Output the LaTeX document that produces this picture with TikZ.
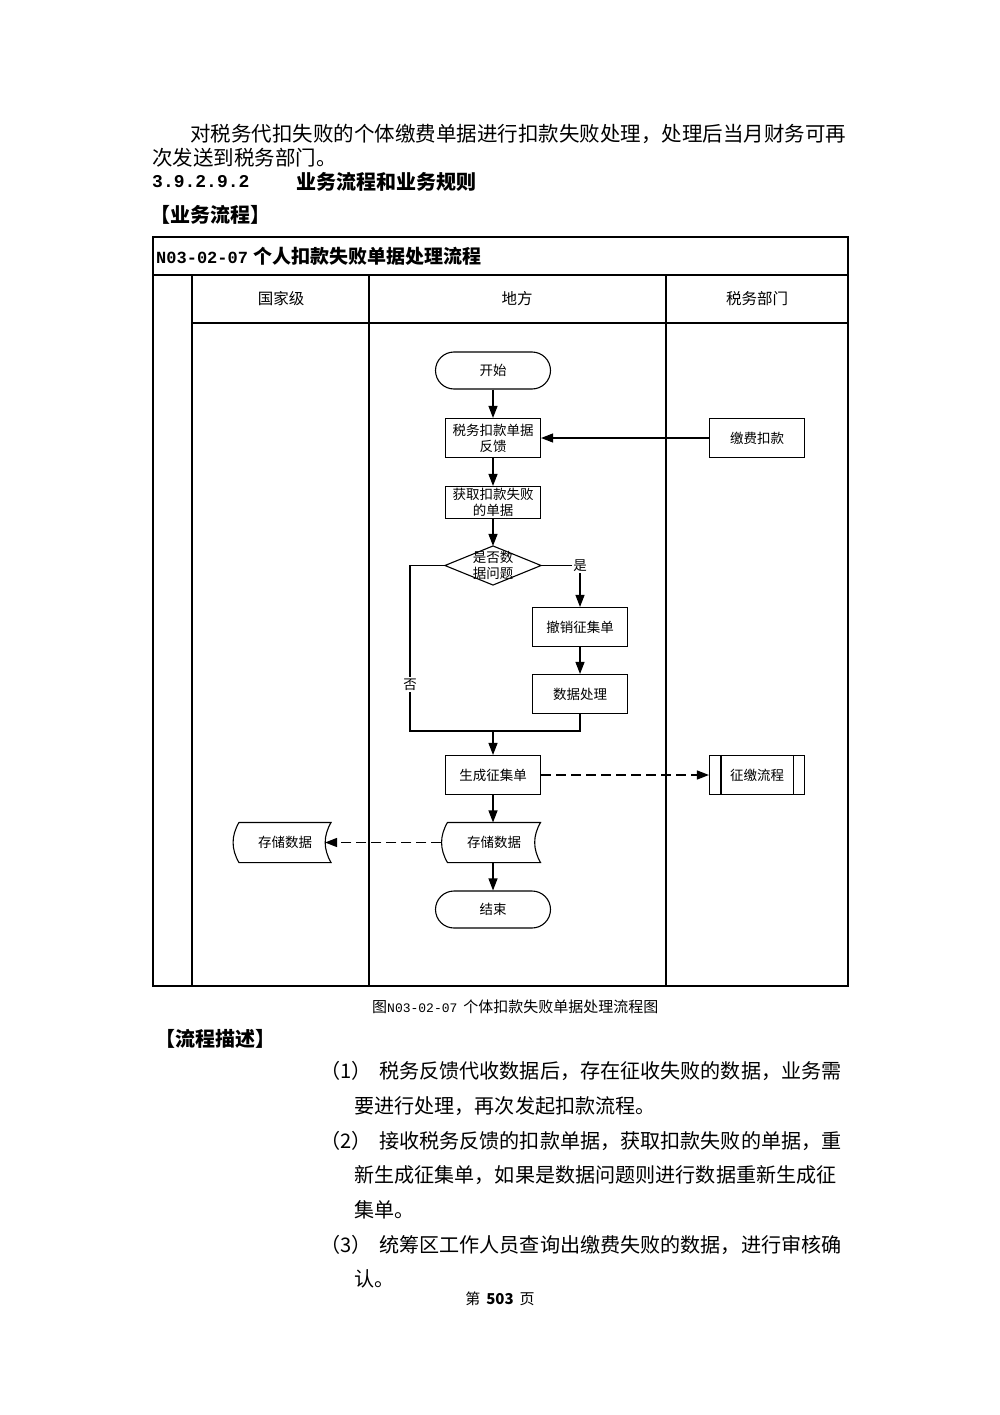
\documentclass[tikz,border=0pt]{standalone}
\usepackage{fontspec}
\setmainfont{Noto Sans CJK SC}
\newfontfamily\mono{Liberation Mono}
\usetikzlibrary{arrows.meta}

\tikzset{
    proc/.style={draw, line width=1.1pt, minimum width=95pt, minimum height=39pt,
        inner sep=0pt, align=center, font=\fontsize{13.5}{16}\selectfont},
    term/.style={proc, minimum width=115pt, minimum height=37pt, rounded corners=18.5pt},
    flow/.style={line width=1.1pt, -{Triangle[length=12pt,width=9pt]}},
    dflow/.style={flow, line width=1.3pt, dash pattern=on 10pt off 5pt},
    body/.style={anchor=west, inner sep=0pt, font=\fontsize{20.5}{24}\selectfont},
    desc/.style={body, font=\fontsize{20.1}{24}\selectfont},
    bhead/.style={anchor=west, inner sep=0pt, font=\bfseries\fontsize{20}{24}\selectfont},
    lane/.style={inner sep=0pt, font=\fontsize{15.5}{18}\selectfont},
    tag/.style={fill=white, inner sep=1.5pt, font=\fontsize{13.5}{16}\selectfont},
}

\begin{document}
\begin{tikzpicture}[x=1pt, y=-1pt]
    \useasboundingbox (0,0) rectangle (1000,1415);

    % text above the chart
    \node[body] (intro1) at (190,134) {对税务代扣失败的个体缴费单据进行扣款失败处理，处理后当月财务可再};
    \node[body] (intro2) at (152,158) {次发送到税务部门。};
    \node[bhead] (secno) at (152,182) {\mono\fontsize{18}{20}\selectfont 3.9.2.9.2};
    \node[bhead] (secname) at (296,182) {业务流程和业务规则};
    \node[bhead] (flowhead) at (150,215) {【业务流程】};

    % lane frame
    \draw[line width=1.3pt] (153,237) rectangle (848,986);
    \draw[line width=1.3pt] (153,275) -- (848,275);
    \draw[line width=1.3pt] (192,323) -- (848,323);
    \draw[line width=1.3pt] (192,275) -- (192,986);
    \draw[line width=1.3pt] (369,275) -- (369,986);
    \draw[line width=1.3pt] (666,275) -- (666,986);
    \node[anchor=west, inner sep=0pt, font=\bfseries\fontsize{19}{22}\selectfont] (title) at (156,256)
        {{\mono\fontsize{17}{20}\selectfont N03-02-07}\hspace{5pt}个人扣款失败单据处理流程};
    \node[lane] (natl) at (281,299) {国家级};
    \node[lane] (local) at (517,299) {地方};
    \node[lane] (tax) at (757,299) {税务部门};

    % nodes
    \node[term] (start) at (493,370.5) {开始};
    \node[proc] (fb) at (493,438) {税务扣款单据\\反馈};
    \node[proc] (pay) at (757,438) {缴费扣款};
    \node[proc, minimum height=32pt] (get) at (493,502.5) {获取扣款失败\\的单据};
    \node[proc, draw=none, minimum height=38pt] (chk) at (493,565.5) {是否数\\据问题};
    \draw[line width=1.1pt] (chk.north) -- (chk.east) -- (chk.south) -- (chk.west) -- cycle;
    \node[proc] (undo) at (580,627) {撤销征集单};
    \node[proc] (fix) at (580,694) {数据处理};
    \coordinate (join) at (493,731);
    \coordinate (nobend) at (410,731);
    \node[proc] (gen) at (493,775) {生成征集单};
    \node[proc] (sub) at (757,775) {征缴流程};
    \draw[line width=1.1pt] ([xshift=12pt]sub.north west) -- ([xshift=12pt]sub.south west);
    \draw[line width=1.1pt] ([xshift=-12pt]sub.north east) -- ([xshift=-12pt]sub.south east);
    \node[proc, draw=none, minimum width=92pt] (store) at (494,842.5) {存储数据};
    \draw[line width=1.1pt] (store.north west) -- (store.north east) to[bend right=30] (store.south east)
        -- (store.south west) to[bend left=30] (store.north west);
    \node[proc, draw=none, minimum width=91pt] (arch) at (285,842.5) {存储数据};
    \draw[line width=1.1pt] (arch.north west) -- (arch.north east) to[bend right=30] (arch.south east)
        -- (arch.south west) to[bend left=30] (arch.north west);
    \node[term] (end) at (493,909.5) {结束};

    % connectors
    \draw[flow] (start) -- (fb);
    \draw[flow] (fb) -- (get);
    \draw[flow] (get) -- (chk.north);
    \draw[flow] (pay) -- (fb);
    \draw[flow] (chk.east) -| node[tag] (yes) {是} (undo.north);
    \draw[flow] (undo) -- (fix);
    \draw[line width=1.1pt] (chk.west) -| node[tag, pos=0.86] (no) {否} (nobend) -- (join);
    \draw[line width=1.1pt] (fix.south) |- (join);
    \draw[flow] (join) -- (gen);
    \draw[dflow] (gen) -- (sub);
    \draw[flow] (gen) -- (gen |- store.north);
    \draw[dflow] ([xshift=-6pt]store.west) -- ([xshift=-6pt]arch.east);
    \draw[flow] (end |- store.south) -- (end);

    % caption and description
    \node[anchor=west, inner sep=0pt, font=\fontsize{15}{18}\selectfont] (cap) at (372,1007)
        {图{\mono\fontsize{13}{15}\selectfont N03-02-07}\hspace{6pt}个体扣款失败单据处理流程图};
    \node[bhead] (deschead) at (155,1039) {【流程描述】};
    \node[desc] (n1) at (320,1071) {（1）};
    \node[desc] (d1a) at (379,1071) {税务反馈代收数据后，存在征收失败的数据，业务需};
    \node[desc] (d1b) at (354,1106) {要进行处理，再次发起扣款流程。};
    \node[desc] (n2) at (320,1141) {（2）};
    \node[desc] (d2a) at (379,1141) {接收税务反馈的扣款单据，获取扣款失败的单据，重};
    \node[desc] (d2b) at (354,1175) {新生成征集单，如果是数据问题则进行数据重新生成征};
    \node[desc] (d2c) at (354,1210) {集单。};
    \node[desc] (n3) at (320,1245) {（3）};
    \node[desc] (d3a) at (379,1245) {统筹区工作人员查询出缴费失败的数据，进行审核确};
    \node[desc] (d3b) at (354,1279) {认。};
    \node[inner sep=0pt, font=\fontsize{15}{18}\selectfont] (page) at (500,1299)
        {第\hspace{6pt}\textbf{503}\hspace{6pt}页};
\end{tikzpicture}
\end{document}
